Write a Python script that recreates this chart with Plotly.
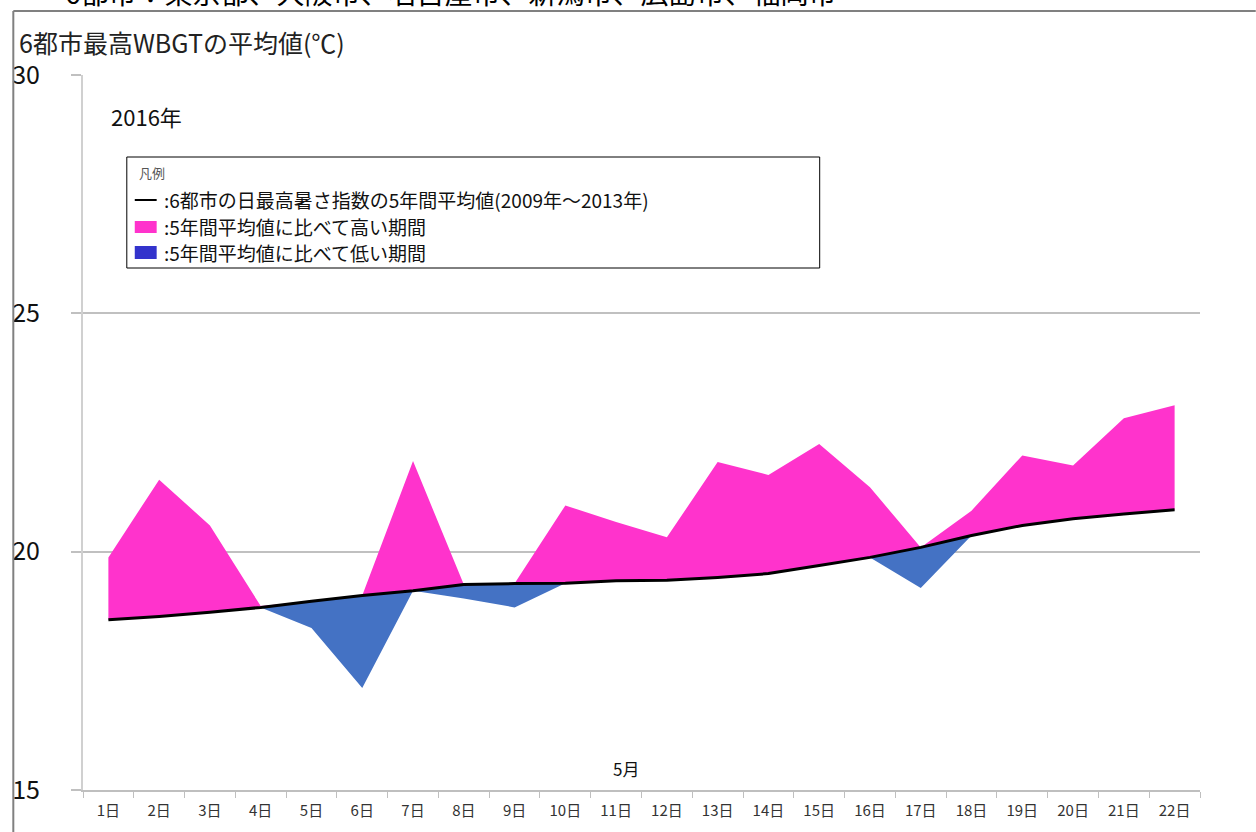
import plotly.graph_objects as go

# ---- data ----
days = list(range(1, 23))
day_labels = [f"{d}日" for d in days]
avg_5yr = [18.57, 18.64, 18.73, 18.83, 18.96, 19.08, 19.18, 19.31, 19.33, 19.34, 19.39,
           19.40, 19.46, 19.54, 19.71, 19.88, 20.09, 20.34, 20.55, 20.69, 20.79, 20.88]
wbgt_2016 = [19.88, 21.51, 20.55, 18.86, 18.40, 17.14, 21.90, 19.02, 18.83, 20.97, 20.62,
             20.30, 21.88, 21.61, 22.26, 21.35, 19.24, 20.86, 22.02, 21.81, 22.80, 23.07]
y_ticks = [15, 20, 25, 30]

upper = [max(a, b) for a, b in zip(wbgt_2016, avg_5yr)]
lower = [min(a, b) for a, b in zip(wbgt_2016, avg_5yr)]

PINK = "#FF33CC"
BLUE = "#4472C4"
LEG_BLUE = "#3333CC"
FONT = "Noto Sans CJK JP"

fig = go.Figure()
fig.add_trace(go.Scatter(x=days, y=avg_5yr, mode="lines", line=dict(width=0, color="rgba(0,0,0,0)"),
                         showlegend=False, hoverinfo="skip"))
fig.add_trace(go.Scatter(x=days, y=upper, mode="lines", line=dict(width=0, color="rgba(0,0,0,0)"),
                         fill="tonexty", fillcolor=PINK, showlegend=False))
fig.add_trace(go.Scatter(x=days, y=avg_5yr, mode="lines", line=dict(width=0, color="rgba(0,0,0,0)"),
                         showlegend=False, hoverinfo="skip"))
fig.add_trace(go.Scatter(x=days, y=lower, mode="lines", line=dict(width=0, color="rgba(0,0,0,0)"),
                         fill="tonexty", fillcolor=BLUE, showlegend=False))
fig.add_trace(go.Scatter(x=days, y=avg_5yr, mode="lines", line=dict(width=3, color="black"),
                         showlegend=False))

L, R, T, B = 78, 56, 75, 42
W, H = 1256, 832
pw, ph = W - L - R, H - T - B


def px(xp):
    return (xp - L) / pw


def py(yp):
    return (H - B - yp) / ph


shapes = []
# outer frame lines
shapes.append(dict(type="line", xref="paper", yref="paper", x0=px(8), x1=px(1256), y0=py(11), y1=py(11),
                   line=dict(color="#808080", width=2)))
shapes.append(dict(type="line", xref="paper", yref="paper", x0=px(8), x1=px(8), y0=py(11), y1=py(832),
                   line=dict(color="#808080", width=2)))
# legend box
shapes.append(dict(type="rect", xref="paper", yref="paper", x0=px(122), x1=px(818), y0=py(157), y1=py(268),
                   line=dict(color="black", width=1), fillcolor="white"))
shapes.append(dict(type="line", xref="paper", yref="paper", x0=px(130), x1=px(152), y0=py(200), y1=py(200),
                   line=dict(color="black", width=2)))
shapes.append(dict(type="rect", xref="paper", yref="paper", x0=px(130), x1=px(152), y0=py(221), y1=py(233),
                   line=dict(width=0), fillcolor=PINK))
shapes.append(dict(type="rect", xref="paper", yref="paper", x0=px(130), x1=px(152), y0=py(246), y1=py(259),
                   line=dict(width=0), fillcolor=LEG_BLUE))

annotations = []


def add_text(text, x, y, size, color="#000000", xanchor="left"):
    annotations.append(dict(text=text, xref="paper", yref="paper", x=px(x), y=py(y), xanchor=xanchor,
                            yanchor="middle", showarrow=False, font=dict(family=FONT, size=size, color=color)))


add_text("・6都市：東京都、大阪市、名古屋市、新潟市、広島市、福岡市", 30, -8, 28)
add_text("6都市最高WBGTの平均値(℃)", 12, 42, 25, "#222222")
add_text("2016年", 104, 116, 22, "#111111")
add_text("凡例", 132, 172, 13, "#555555")
add_text(":6都市の日最高暑さ指数の5年間平均値(2009年～2013年)", 157, 200, 19, "#111111")
add_text(":5年間平均値に比べて高い期間", 157, 227, 19, "#111111")
add_text(":5年間平均値に比べて低い期間", 157, 253, 19, "#111111")
add_text("5月", 623, 768, 17, "#111111", xanchor="center")

fig.update_layout(
    width=W, height=H,
    margin=dict(l=L, r=R, t=T, b=B),
    paper_bgcolor="white", plot_bgcolor="white",
    shapes=shapes, annotations=annotations,
    xaxis=dict(range=[0.5, 22.5], tickmode="array", tickvals=days, ticktext=day_labels,
               ticks="", showgrid=False, zeroline=False, showline=True, linecolor="#bfbfbf", linewidth=2,
               ticklabelstandoff=6,
               tickfont=dict(family=FONT, size=15, color="#333333"),
               minor=dict(tickmode="linear", tick0=0.5, dtick=1, ticks="outside", ticklen=6,
                          tickcolor="#bfbfbf", tickwidth=1, showgrid=False)),
    yaxis=dict(range=[15, 30], tickmode="array", tickvals=y_ticks, ticktext=[str(v) for v in y_ticks],
               ticks="outside", ticklen=10, tickcolor="#c0c0c0", tickwidth=2,
               showgrid=True, gridcolor="#c0c0c0", gridwidth=2, zeroline=False,
               showline=True, linecolor="#d0d0d0", linewidth=2,
               ticklabelstandoff=26,
               tickfont=dict(family=FONT, size=25, color="#111111")),
)

fig.write_html("out.html", config={"displayModeBar": False},
               post_script="document.body.style.margin='0';document.body.style.overflow='hidden';")
